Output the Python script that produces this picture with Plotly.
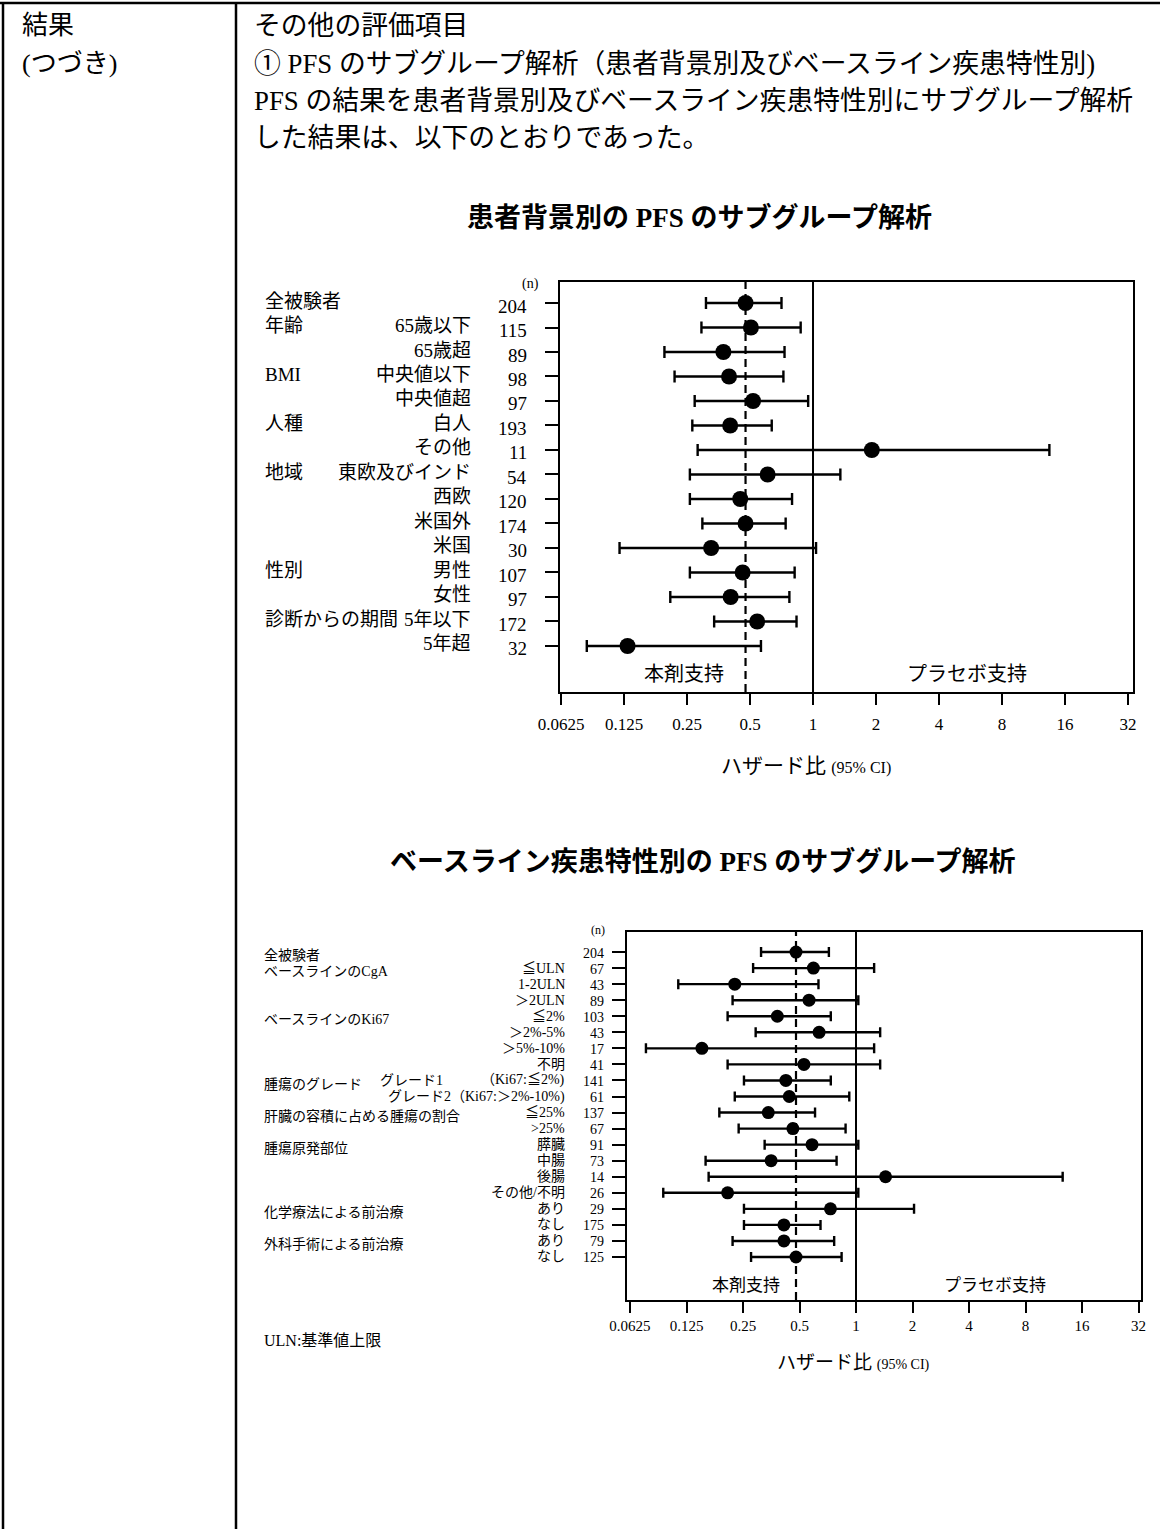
import math
import plotly.graph_objects as go

W, H = 1160, 1529
FONT = "Liberation Serif, Noto Sans CJK JP, sans-serif"

# ---- 患者背景別 ----
p1_group = ["全被験者", "年齢", "", "BMI", "", "人種", "", "地域", "", "", "",
            "性別", "", "診断からの期間", ""]
p1_sub = ["", "65歳以下", "65歳超", "中央値以下", "中央値超", "白人", "その他",
          "東欧及びインド", "西欧", "米国外", "米国", "男性", "女性", "5年以下", "5年超"]
p1_n = [204, 115, 89, 98, 97, 193, 11, 54, 120, 174, 30, 107, 97, 172, 32]
p1_hr = [0.476, 0.505, 0.373, 0.397, 0.517, 0.402, 1.91, 0.607, 0.449, 0.476,
         0.326, 0.461, 0.404, 0.541, 0.130]
p1_lo = [0.308, 0.293, 0.195, 0.218, 0.272, 0.265, 0.281, 0.258, 0.258, 0.296,
         0.119, 0.258, 0.208, 0.337, 0.083]
p1_hi = [0.707, 0.873, 0.731, 0.722, 0.948, 0.635, 13.47, 1.351, 0.794, 0.740,
         1.034, 0.817, 0.771, 0.834, 0.564]

# ---- ベースライン疾患特性別 ----
p2_group = ["全被験者", "ベースラインのCgA", "", "", "ベースラインのKi67", "", "", "",
            "腫瘍のグレード", "", "肝臓の容積に占める腫瘍の割合", "", "腫瘍原発部位",
            "", "", "", "化学療法による前治療", "", "外科手術による前治療", ""]
p2_mid = ["", "", "", "", "", "", "", "", "グレード1", "", "", "", "", "", "", "",
          "", "", "", ""]
p2_sub = ["", "≦ULN", "1-2ULN", "＞2ULN", "≦2%", "＞2%-5%", "＞5%-10%", "不明",
          "（Ki67:≦2%)", "グレード2（Ki67:＞2%-10%)", "≦25%", ">25%", "膵臓", "中腸",
          "後腸", "その他/不明", "あり", "なし", "あり", "なし"]
p2_n = [204, 67, 43, 89, 103, 43, 17, 41, 141, 61, 137, 67, 91, 73, 14, 26, 29,
        175, 79, 125]
p2_hr = [0.479, 0.593, 0.226, 0.562, 0.381, 0.636, 0.151, 0.528, 0.423, 0.441,
         0.341, 0.461, 0.583, 0.353, 1.437, 0.207, 0.731, 0.413, 0.413, 0.479]
p2_lo = [0.312, 0.283, 0.113, 0.220, 0.207, 0.292, 0.076, 0.207, 0.253, 0.226,
         0.187, 0.237, 0.326, 0.158, 0.164, 0.094, 0.253, 0.253, 0.220, 0.276]
p2_hi = [0.717, 1.249, 0.631, 1.029, 0.734, 1.345, 1.249, 1.345, 0.734, 0.921,
         0.605, 0.880, 1.029, 0.788, 12.62, 1.029, 2.038, 0.647, 0.765, 0.838]

tick_vals = [0.0625, 0.125, 0.25, 0.5, 1, 2, 4, 8, 16, 32]
tick_text = ["0.0625", "0.125", "0.25", "0.5", "1", "2", "4", "8", "16", "32"]

header_left = ["結果", "(つづき)"]
header_right = [
    "その他の評価項目",
    "① PFS のサブグループ解析（患者背景別及びベースライン疾患特性別)",
    "PFS の結果を患者背景別及びベースライン疾患特性別にサブグループ解析",
    "した結果は、以下のとおりであった。",
]
title1 = "患者背景別の PFS のサブグループ解析"
title2 = "ベースライン疾患特性別の PFS のサブグループ解析"
favour_left, favour_right = "本剤支持", "プラセボ支持"
footnote = "ULN:基準値上限"


def X(px):
    return px / W


def Y(py):
    return 1 - py / H


L2 = math.log10(2)
fig = go.Figure()


def forest(hr, lo, hi, xa, ya, msize, cap):
    fig.add_trace(go.Scatter(
        x=hr, y=list(range(len(hr))), mode="markers", xaxis=xa, yaxis=ya,
        marker=dict(size=msize, color="black"),
        error_x=dict(type="data", symmetric=False,
                     array=[h - m for h, m in zip(hi, hr)],
                     arrayminus=[m - l for m, l in zip(hr, lo)],
                     width=cap, thickness=2.4, color="black"),
        showlegend=False, hoverinfo="skip"))


forest(p1_hr, p1_lo, p1_hi, "x", "y", 16, 6)
forest(p2_hr, p2_lo, p2_hi, "x2", "y2", 13, 5)

axis_common = dict(showline=True, linewidth=2, linecolor="black", mirror=True,
                   showgrid=False, zeroline=False, ticks="outside",
                   tickcolor="black", tickwidth=2, automargin=False)

fig.update_layout(
    width=W, height=H, margin=dict(l=0, r=0, t=0, b=0, pad=0, autoexpand=False),
    paper_bgcolor="white", plot_bgcolor="white",
    font=dict(family=FONT, color="black"),
    xaxis=dict(axis_common, type="log", domain=[X(560), X(1133)],
               range=[-4.016 * L2, 5.079 * L2], anchor="y",
               tickvals=tick_vals, ticktext=tick_text, ticklen=11,
               ticklabelstandoff=5,
               tickfont=dict(size=17, family="Liberation Serif")),
    yaxis=dict(axis_common, domain=[Y(692), Y(282)], anchor="x",
               range=[len(p1_n) - 1 + 1.878, -0.857],
               tickvals=list(range(len(p1_n))), ticklen=13,
               showticklabels=False),
    xaxis2=dict(axis_common, type="log", domain=[X(627), X(1141)],
                range=[-4.053 * L2, 5.044 * L2], anchor="y2",
                tickvals=tick_vals, ticktext=tick_text, ticklen=11,
                tickfont=dict(size=15, family="Liberation Serif")),
    yaxis2=dict(axis_common, domain=[Y(1300), Y(932)], anchor="x2",
                range=[len(p2_n) - 1 + 2.68, -1.25],
                tickvals=list(range(len(p2_n))), ticklen=13,
                showticklabels=False),
)

shapes = []
# reference lines: HR = 1 (solid) and overall HR (dashed)
for xa, ya, overall in (("x", "y", p1_hr[0]), ("x2", "y2", p2_hr[0])):
    shapes.append(dict(type="line", xref=xa, yref=ya + " domain", x0=1, x1=1,
                       y0=0, y1=1, line=dict(color="black", width=2)))
    shapes.append(dict(type="line", xref=xa, yref=ya + " domain", x0=overall,
                       x1=overall, y0=0, y1=1,
                       line=dict(color="black", width=2.2, dash="8px,5px")))
# table frame
frame = dict(color="black", width=2.5)
shapes.append(dict(type="line", xref="paper", yref="paper", x0=0, x1=1,
                   y0=Y(3), y1=Y(3), line=frame))
shapes.append(dict(type="line", xref="paper", yref="paper", x0=X(3), x1=X(3),
                   y0=0, y1=Y(2), line=frame))
shapes.append(dict(type="line", xref="paper", yref="paper", x0=X(236), x1=X(236),
                   y0=0, y1=Y(2), line=frame))
fig.update_layout(shapes=shapes)

ann = []


def text(t, x, y, size, xanchor="left", yref="paper", yshift=0, bold=False):
    ann.append(dict(text=f"<b>{t}</b>" if bold else t, x=x, y=y, xref="paper",
                    yref=yref, xanchor=xanchor, yanchor="middle",
                    showarrow=False, yshift=yshift,
                    font=dict(size=size, family=FONT, color="black")))


# header rows of the table
for i, t in enumerate(header_left):
    text(t, X(20), Y(26 + 37.5 * i), 26)
for i, t in enumerate(header_right):
    text(t, X(252), Y(26 + 37.5 * i), 26.8)

# titles
text(title1, X(699), Y(217), 27, xanchor="center", bold=True)
text(title2, X(703), Y(861), 27, xanchor="center", bold=True)

# forest 1 row labels
for i in range(len(p1_n)):
    if p1_group[i]:
        text(p1_group[i], X(263), i, 19, yref="y", yshift=2)
    if p1_sub[i]:
        text(p1_sub[i], X(473), i, 19, xanchor="right", yref="y", yshift=2)
    text(str(p1_n[i]), X(529), i, 19, xanchor="right", yref="y", yshift=-3)
text("(n)", X(530), Y(284), 14, xanchor="center")
text(favour_left, X(684), Y(674), 20, xanchor="center")
text(favour_right, X(967), Y(674), 20, xanchor="center")
text("ハザード比 <span style='font-size:16px'>(95% CI)</span>", X(806), Y(766),
     21, xanchor="center")

# forest 2 row labels
for i in range(len(p2_n)):
    if p2_group[i]:
        text(p2_group[i], X(262), i + 0.2, 14, yref="y2")
    if p2_mid[i]:
        text(p2_mid[i], X(378), i, 14, yref="y2")
    if p2_sub[i]:
        text(p2_sub[i], X(567), i, 14, xanchor="right", yref="y2")
    text(str(p2_n[i]), X(606), i, 14, xanchor="right", yref="y2", yshift=-1)
text("(n)", X(598), Y(930), 12, xanchor="center")
text(favour_left, X(746), Y(1285), 17, xanchor="center")
text(favour_right, X(995), Y(1285), 17, xanchor="center")
text("ハザード比 <span style='font-size:14px'>(95% CI)</span>", X(853), Y(1362),
     19, xanchor="center")
text(footnote, X(262), Y(1340), 16)

fig.update_layout(annotations=ann)
fig.write_html("out.html")
